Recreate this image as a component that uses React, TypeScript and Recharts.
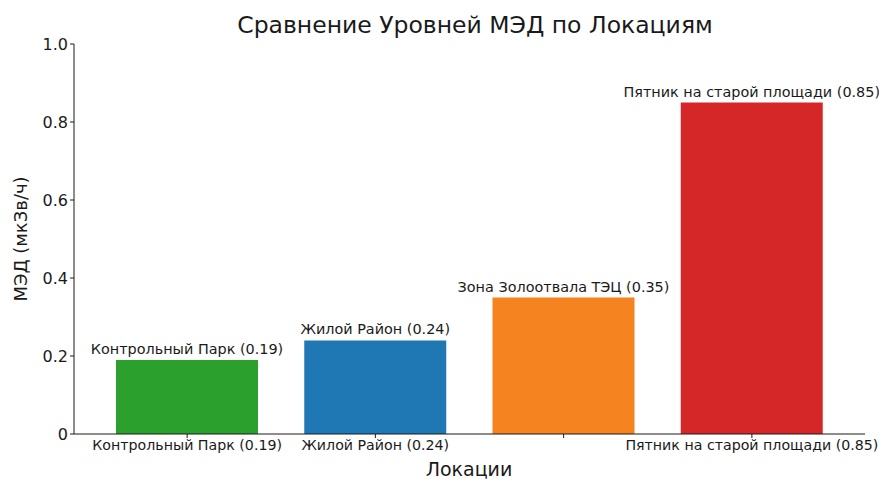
import { BarChart, Bar, XAxis, YAxis, Cell, LabelList } from "recharts";

const locations = [
  "Контрольный Парк",
  "Жилой Район",
  "Зона Золоотвала ТЭЦ",
  "Пятник на старой площади",
];
const doseValues = [0.19, 0.24, 0.35, 0.85];
const barColors = ["#2ca02c", "#1f77b4", "#f5831f", "#d62728"];
const barLabels = [
  "Контрольный Парк (0.19)",
  "Жилой Район (0.24)",
  "Зона Золоотвала ТЭЦ (0.35)",
  "Пятник на старой площади (0.85)",
];
// the third tick label is not drawn in the original
const xTickLabels = [
  "Контрольный Парк (0.19)",
  "Жилой Район (0.24)",
  "",
  "Пятник на старой площади (0.85)",
];
const yTicks = [0, 0.2, 0.4, 0.6, 0.8, 1.0];
const yTickLabels = ["0", "0.2", "0.4", "0.6", "0.8", "1.0"];

const FONT = "'DejaVu Sans', sans-serif";
const INK = "#1a1a1a";

const chartData = locations.map((name, i) => ({
  name,
  value: doseValues[i],
  label: barLabels[i],
}));

// single-line label above each bar (the default one wraps to bar width)
function BarTopLabel(props: any) {
  const { x, y, width, value } = props;
  return (
    <text
      x={Number(x) + Number(width) / 2}
      y={Number(y) - 6}
      textAnchor="middle"
      fontSize={14.4}
      fontFamily={FONT}
      fill={INK}
    >
      {value}
    </text>
  );
}

export default function App() {
  return (
    <div
      style={{
        position: "absolute",
        left: 0,
        top: 0,
        width: 879,
        height: 480,
        background: "#fff",
        fontFamily: FONT,
        color: INK,
      }}
    >
      <BarChart
        width={879}
        height={480}
        data={chartData}
        margin={{ top: 44, right: 14, bottom: 0, left: 0 }}
      >
        <XAxis
          dataKey="name"
          height={46}
          interval={0}
          padding={{ left: 19, right: 19 }}
          tickSize={4}
          stroke={INK}
          tick={{ fontSize: 14.2, fill: INK, fontFamily: FONT }}
          tickFormatter={(_v: string, i: number) => xTickLabels[i]}
        />
        <YAxis
          width={74}
          domain={[0, 1]}
          ticks={yTicks}
          tickSize={4}
          stroke={INK}
          tick={{ fontSize: 16, fill: INK, fontFamily: FONT }}
          tickFormatter={(v: number) => yTickLabels[yTicks.indexOf(v)]}
        />
        <Bar dataKey="value" barSize={142} isAnimationActive={false}>
          {chartData.map((_d, i) => (
            <Cell key={i} fill={barColors[i]} />
          ))}
          <LabelList dataKey="label" content={BarTopLabel} />
        </Bar>
      </BarChart>
      <div
        style={{
          position: "absolute",
          left: 0,
          width: 950,
          top: 9,
          textAlign: "center",
          fontSize: 23.5,
          lineHeight: "32px",
        }}
      >
        Сравнение Уровней МЭД по Локациям
      </div>
      <div
        style={{
          position: "absolute",
          left: 0,
          width: 938,
          top: 456,
          textAlign: "center",
          fontSize: 19,
          lineHeight: "26px",
        }}
      >
        Локации
      </div>
      <div
        style={{
          position: "absolute",
          left: 21,
          top: 239,
          fontSize: 18,
          lineHeight: "24px",
          whiteSpace: "nowrap",
          transform: "translate(-50%, -50%) rotate(-90deg)",
        }}
      >
        МЭД (мкЗв/ч)
      </div>
    </div>
  );
}
